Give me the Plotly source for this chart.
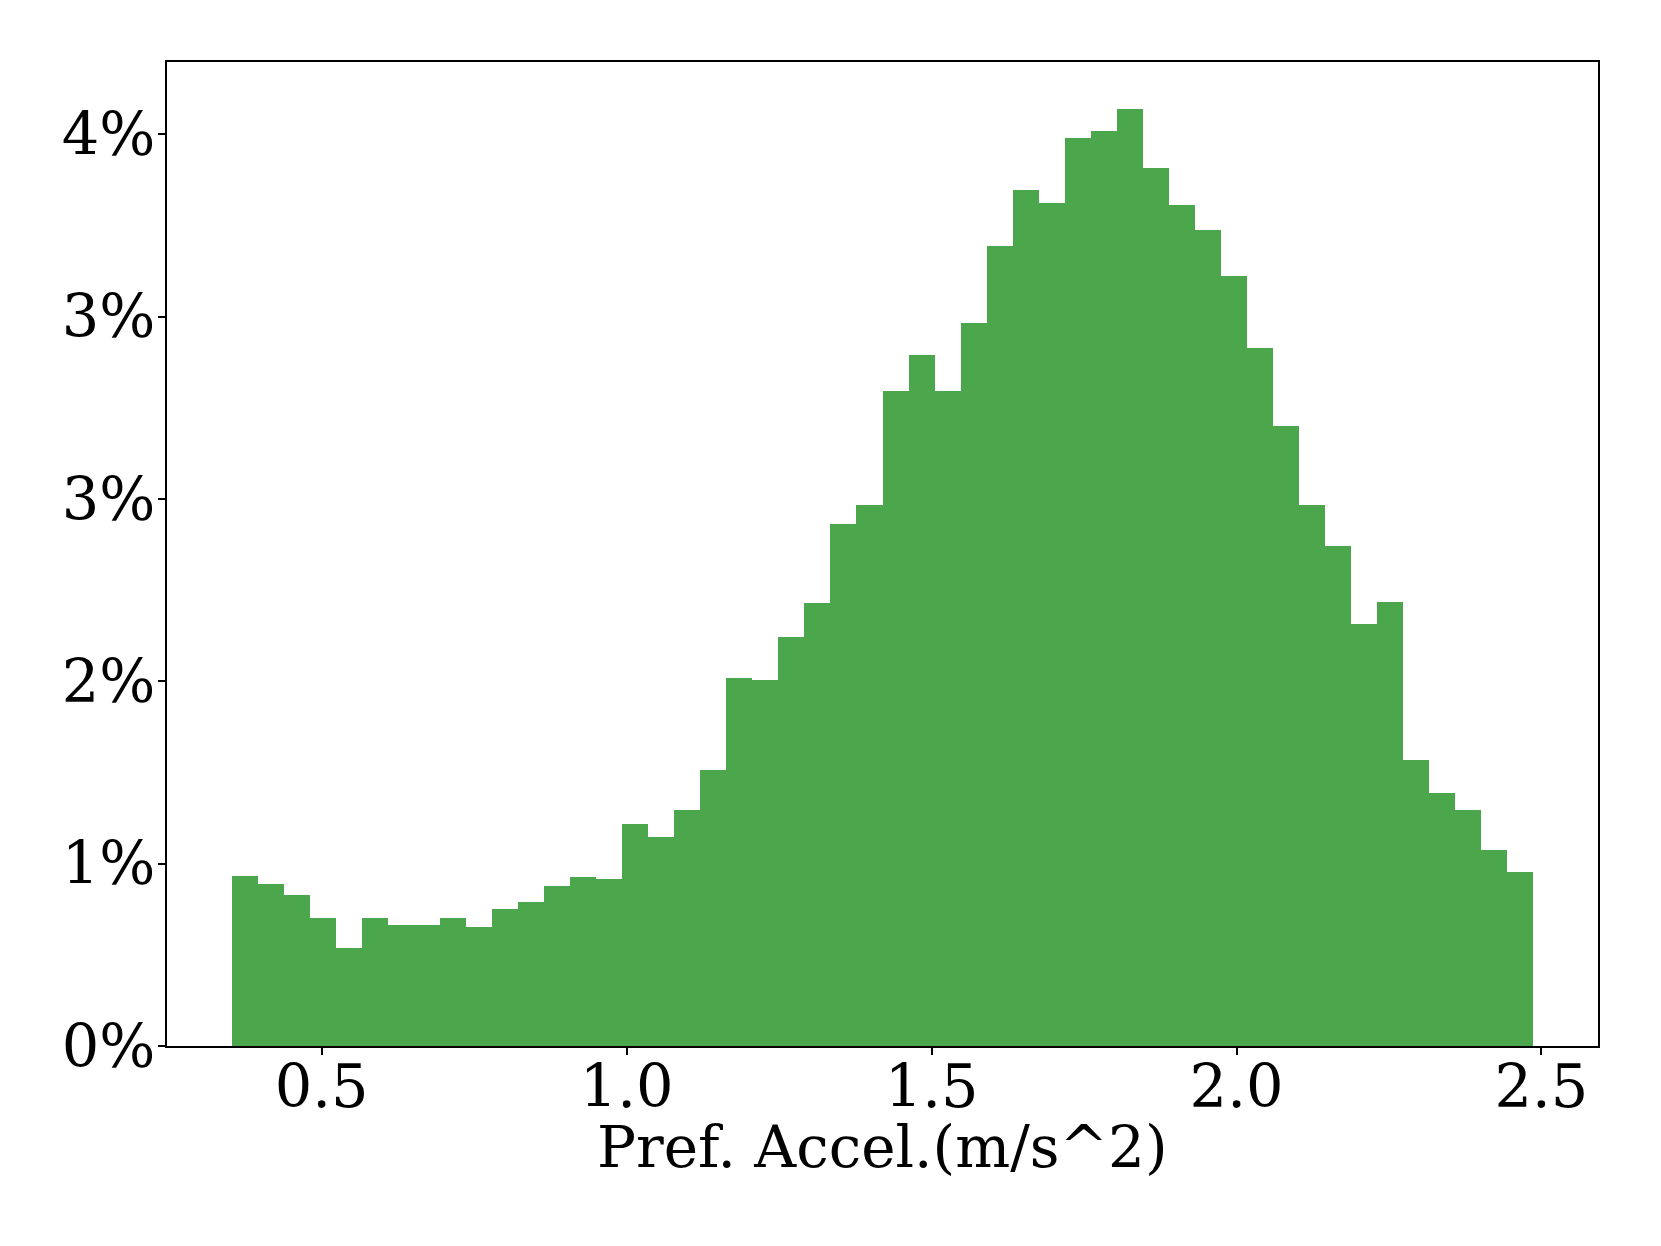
import numpy as np
import plotly.graph_objects as go

# Histogram (density) values for 50 equal-width bins
bin_lo = 0.353
bin_hi = 2.486
n_bins = 50
density = [0.186, 0.178, 0.166, 0.140, 0.107, 0.140, 0.133, 0.133, 0.140, 0.131,
           0.150, 0.158, 0.175, 0.185, 0.183, 0.244, 0.229, 0.259, 0.303, 0.404,
           0.401, 0.449, 0.486, 0.573, 0.593, 0.719, 0.758, 0.718, 0.793, 0.878,
           0.939, 0.925, 0.996, 1.004, 1.028, 0.963, 0.922, 0.895, 0.845, 0.766,
           0.680, 0.594, 0.548, 0.463, 0.487, 0.314, 0.277, 0.259, 0.215, 0.191]

y_tickvals = [0, 0.2, 0.4, 0.6, 0.8, 1.0]
y_ticktext = ["0%", "1%", "2%", "3%", "3%", "4%"]
x_tickvals = [0.5, 1.0, 1.5, 2.0, 2.5]
x_title = "Pref. Accel.(m/s^2)"

edges = np.linspace(bin_lo, bin_hi, n_bins + 1)
centers = (edges[:-1] + edges[1:]) / 2
width = edges[1] - edges[0]

span = bin_hi - bin_lo
x_range = [bin_lo - 0.05 * span, bin_hi + 0.05 * span]
y_range = [0, max(density) * 1.05]

font_family = "DejaVu Serif"
fsize = 59

fig = go.Figure(go.Bar(
    x=centers, y=density, width=width,
    marker=dict(color="rgba(0,128,0,0.7)", line=dict(width=0)),
))

axis_common = dict(
    showline=True, linecolor="black", linewidth=1.5, mirror=True,
    ticks="outside", ticklen=7, tickwidth=1.5, tickcolor="black",
    showgrid=False, zeroline=False,
    tickfont=dict(family=font_family, size=fsize, color="black"),
)

fig.update_layout(
    width=1661, height=1246,
    margin=dict(l=159, r=71, t=54, b=208),
    paper_bgcolor="white", plot_bgcolor="white",
    showlegend=False, bargap=0,
    xaxis=dict(range=x_range, tickvals=x_tickvals, tickformat=".1f",
               ticklabelstandoff=-19, **axis_common),
    yaxis=dict(range=y_range, tickvals=y_tickvals, ticktext=y_ticktext,
               ticklabelstandoff=-9, **axis_common),
    annotations=[dict(text=x_title, xref="paper", yref="paper", x=0.5, y=-0.1026,
                      xanchor="center", yanchor="middle", showarrow=False,
                      font=dict(family=font_family, size=58, color="black"))],
)

fig.write_html("out.html")
